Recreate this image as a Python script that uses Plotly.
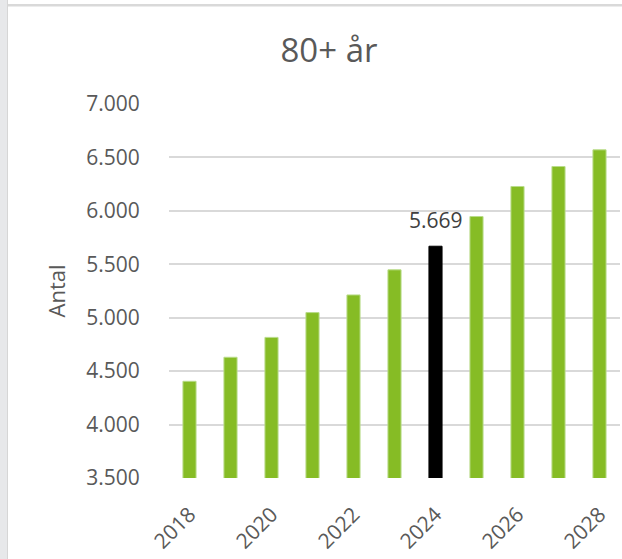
import plotly.graph_objects as go

# Befolkning 80+ år, 2018-2028
years = [2018, 2019, 2020, 2021, 2022, 2023, 2024, 2025, 2026, 2027, 2028]
antal = [4405, 4630, 4816, 5048, 5213, 5448, 5669, 5947, 6228, 6415, 6571]
highlight_year = 2024

y_ticks = [3500, 4000, 4500, 5000, 5500, 6000, 6500, 7000]

GREEN = '#86bc25'
GREY_TXT = '#595959'
FONT = 'Open Sans'

W, H = 622, 559
L, R, T, B = 169, 2, 104, 81
pw, ph = W - L - R, H - T - B


def px_x(px):
    return (px - L) / pw


def px_y(py):
    return (H - B - py) / ph


colors = ['#000000' if y == highlight_year else GREEN for y in years]
lines = ['#000000' if y == highlight_year else '#b9dc8a' for y in years]

fig = go.Figure()
fig.add_trace(go.Bar(
    x=years, y=antal,
    marker=dict(color=colors, line=dict(color=lines, width=1)),
    hoverinfo='x+y'
))

hv = antal[years.index(highlight_year)]
fig.add_annotation(x=highlight_year, y=hv, text=f'{hv:,}'.replace(',', '.'),
                   showarrow=False, yanchor='bottom', yshift=10,
                   font=dict(family=FONT, size=21, color='#404040'))

# grey frame bits from the source screenshot
fig.add_shape(type='rect', xref='paper', yref='paper',
              x0=px_x(0), x1=px_x(7), y0=px_y(H), y1=px_y(0),
              fillcolor='#e7e8ea', line_width=0, layer='below')
fig.add_shape(type='rect', xref='paper', yref='paper',
              x0=px_x(7), x1=px_x(8), y0=px_y(H), y1=px_y(0),
              fillcolor='#d6d6d6', line_width=0, layer='below')
fig.add_shape(type='rect', xref='paper', yref='paper',
              x0=px_x(8), x1=px_x(W), y0=px_y(6.5), y1=px_y(4),
              fillcolor='#d9d9d9', line_width=0, layer='below')

fig.update_layout(
    width=W, height=H,
    margin=dict(l=L, r=R, t=T, b=B, pad=0, autoexpand=False),
    paper_bgcolor='#ffffff', plot_bgcolor='#ffffff',
    separators=',.',
    bargap=0.68,
    showlegend=False,
    font=dict(family=FONT, size=20, color=GREY_TXT),
    title=dict(text='80+ år', x=329 / W, xref='container', xanchor='center',
               y=1 - 50 / H, yref='container', yanchor='middle',
               font=dict(family=FONT, size=33, color=GREY_TXT)),
)
fig.update_xaxes(range=[2017.5, 2028.5], tickmode='array', tickvals=years[::2],
                 tickangle=-45, ticks='outside', ticklen=15, automargin=False,
                 tickcolor='rgba(0,0,0,0)', showgrid=False, zeroline=False,
                 showline=False, tickfont=dict(size=21, color=GREY_TXT))
fig.update_yaxes(range=[3500, 7000], tickmode='array', tickvals=y_ticks,
                 tickformat=',d', ticks='outside', ticklen=24, automargin=False,
                 tickcolor='rgba(0,0,0,0)', showgrid=True, gridcolor='#d9d9d9',
                 gridwidth=2, zeroline=False, showline=False,
                 tickfont=dict(size=21, color=GREY_TXT),
                 title=dict(text='Antal', standoff=14,
                            font=dict(size=22, color=GREY_TXT)))

fig.write_html("out.html", config={'displayModeBar': False},
               post_script="document.body.style.margin='0';")
